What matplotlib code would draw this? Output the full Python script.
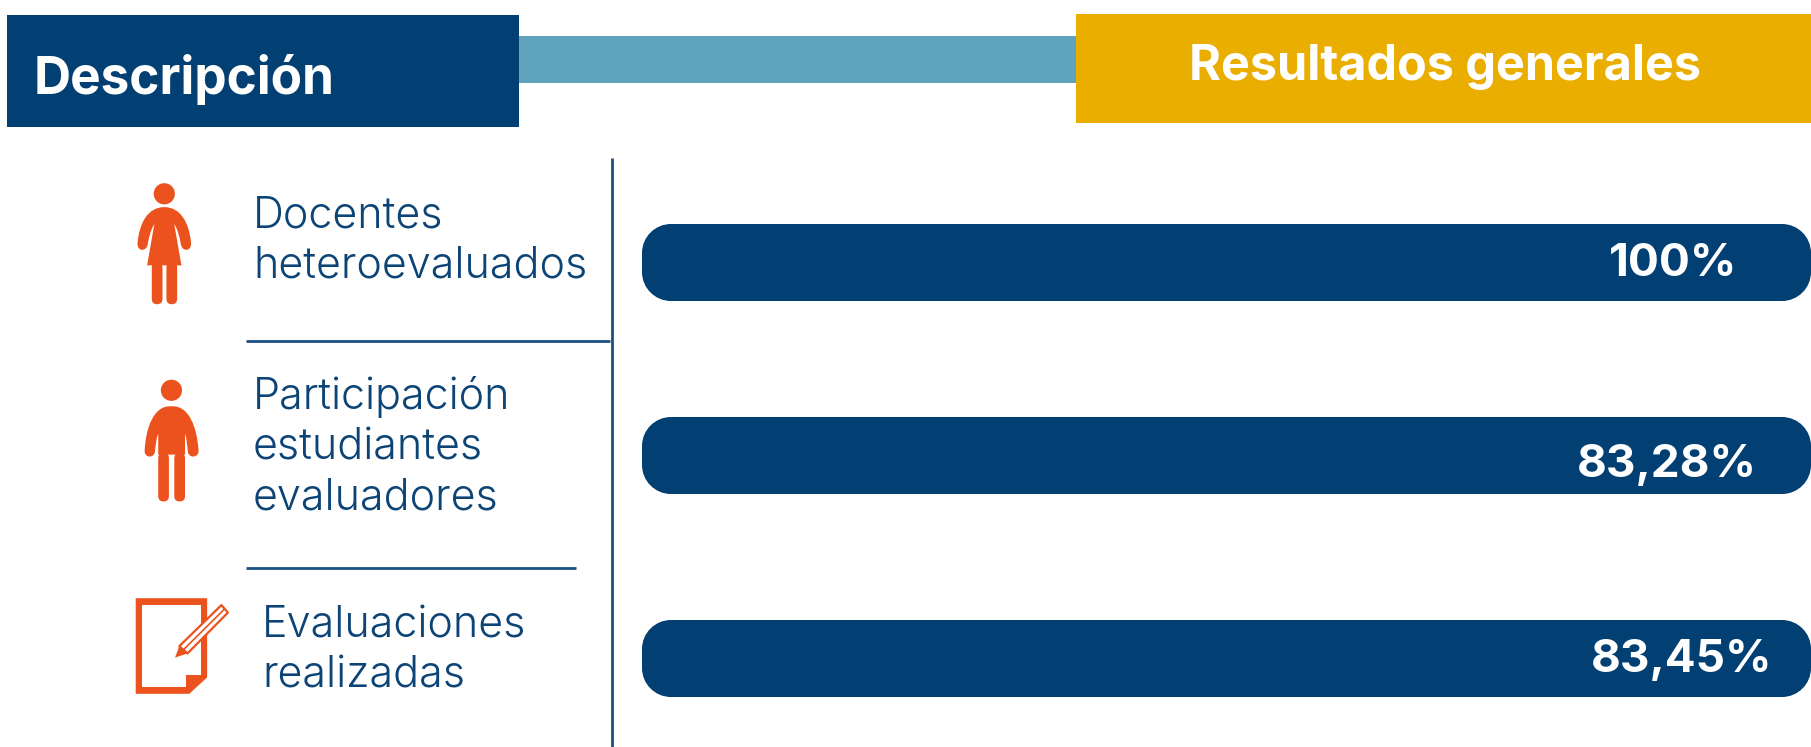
import matplotlib
matplotlib.use("Agg")
import matplotlib.pyplot as plt
from matplotlib.patches import Rectangle, FancyBboxPatch, PathPatch, Circle, Polygon
from matplotlib.path import Path

# --- data ---
header_left = "Descripción"
header_right = "Resultados generales"
categories = [["Docentes", "heteroevaluados"],
              ["Participación", "estudiantes", "evaluadores"],
              ["Evaluaciones", "realizadas"]]
value_labels = ["100%", "83,28%", "83,45%"]
bar_lengths = [100, 100, 100]   # every bar in the picture spans the full track

NAVY = "#023F73"; TEAL = "#5FA3BC"; GOLD = "#E9AE00"; ORANGE = "#EC521D"; TXT = "#0D4476"; LINE = "#1A4F80"
LIGHT = dict(family="Inter", weight=300)
BOLD = dict(family="Inter", weight="bold")

W, H = 1811, 747
fig = plt.figure(figsize=(W / 100, H / 100), dpi=100, facecolor="white")

# bars, scaled on their own axes (below the overlay)
BAR_X0, BAR_X1 = 642, 1811
bax = fig.add_axes([BAR_X0 / W, 0, (BAR_X1 - BAR_X0) / W, 1], zorder=1)
bax.set_xlim(0, 100); bax.set_ylim(H, 0); bax.axis("off")
unit = (BAR_X1 - BAR_X0) / 100
bar_centres = [262.5, 455.5, 658.5]
BAR_H = 77; RAD = 29; K = 0.5523

def rounded_bar(a, length, yc):
    x0, x1 = 0, length
    y0, y1 = yc - BAR_H / 2, yc + BAR_H / 2
    rx = RAD / unit; ry = RAD; kx = rx * (1 - K); ky = ry * (1 - K)
    v = [(x0 + rx, y0), (x1 - rx, y0),
         (x1 - kx, y0), (x1, y0 + ky), (x1, y0 + ry),
         (x1, y1 - ry),
         (x1, y1 - ky), (x1 - kx, y1), (x1 - rx, y1),
         (x0 + rx, y1),
         (x0 + kx, y1), (x0, y1 - ky), (x0, y1 - ry),
         (x0, y0 + ry),
         (x0, y0 + ky), (x0 + kx, y0), (x0 + rx, y0),
         (x0 + rx, y0)]
    c = [Path.MOVETO, Path.LINETO, Path.CURVE4, Path.CURVE4, Path.CURVE4, Path.LINETO,
         Path.CURVE4, Path.CURVE4, Path.CURVE4, Path.LINETO,
         Path.CURVE4, Path.CURVE4, Path.CURVE4, Path.LINETO,
         Path.CURVE4, Path.CURVE4, Path.CURVE4, Path.CLOSEPOLY]
    a.add_patch(PathPatch(Path(v, c), fc=NAVY, ec="none", clip_on=False))

for v, c in zip(bar_lengths, bar_centres):
    rounded_bar(bax, v, c)

ax = fig.add_axes([0, 0, 1, 1], zorder=2); ax.set_xlim(0, W); ax.set_ylim(H, 0); ax.axis("off")

def px(x0, y0, x1, y1, c, z=1):
    ax.add_patch(Rectangle((x0, y0), x1 - x0, y1 - y0, fc=c, ec="none", zorder=z))

# headers
px(519, 36, 1076, 83, TEAL)
px(7, 15, 519, 127, NAVY, 2)
px(1076, 14, 1811, 123, GOLD, 2)
ax.text(34, 94, header_left, color="white", fontsize=37, va="baseline", ha="left", zorder=3, **BOLD)
ax.text(1189, 80, header_right, color="white", fontsize=35, va="baseline", ha="left", zorder=3, **BOLD)

# rules
ax.plot([612, 612], [158, 747], color=LINE, lw=2, solid_capstyle="butt")
ax.plot([246, 610], [341, 341], color=LINE, lw=2, solid_capstyle="butt")
ax.plot([246, 576], [568, 568], color=LINE, lw=2, solid_capstyle="butt")

# labels
label_pos = [(253, [227, 278]), (253, [409, 460, 510]), (262, [637, 688])]
for lines, (x, bases) in zip(categories, label_pos):
    for s, b in zip(lines, bases):
        ax.text(x, b, s, color=TXT, fontsize=31, va="baseline", ha="left", **LIGHT)

text_x = [1737, 1757, 1772]
text_base = [276, 477, 672]
for lab, tx, tb in zip(value_labels, text_x, text_base):
    ax.text(tx, tb, lab, color="white", fontsize=33, va="baseline", ha="right", zorder=5, **BOLD)

# icon helpers: shapes are traced in crop coordinates
def zx(x): return 100 + x / 2.8
def zy(y): return 150 + y / 2.626
def Z(pts): return [(zx(a), zy(b)) for a, b in pts]

def curve(start, segs, color=ORANGE, z=3):
    verts = [start]; codes = [Path.MOVETO]
    for s in segs:
        if len(s) == 1:
            verts += s; codes += [Path.LINETO]
        else:
            verts += s; codes += [Path.CURVE4] * 3
    verts.append(start); codes.append(Path.CLOSEPOLY)
    ax.add_patch(PathPatch(Path(Z(verts), codes), fc=color, ec="none", zorder=z))

def leg(x0, x1, y0, y1):
    r = (x1 - x0) / 2
    ax.add_patch(FancyBboxPatch((zx(x0), zy(y0)), zx(x1) - zx(x0), zy(y1) - zy(y0),
                                boxstyle=f"round,pad=0,rounding_size={r / 2.8}", fc=ORANGE, ec="none", zorder=3))

# woman
ax.add_patch(Circle((zx(180), zy(115)), 10.6, fc=ORANGE, ec="none", zorder=3))
curve((180, 150), [
    [(225, 150), (250, 190), (255, 245)],
    [(256, 268), (228, 268), (226, 245)],
    [(222, 225), (216, 205), (208, 195)],
    [(228, 303)], [(132, 303)], [(152, 195)],
    [(144, 205), (138, 225), (134, 245)],
    [(132, 268), (104, 268), (105, 245)],
    [(110, 190), (135, 150), (180, 150)],
])
leg(145, 175, 295, 405); leg(186, 216, 295, 405)

# man
ax.add_patch(Circle((zx(200), zy(631)), 10.6, fc=ORANGE, ec="none", zorder=3))
curve((200, 673), [
    [(250, 670), (272, 730), (276, 790)],
    [(276, 810), (246, 810), (246, 790)],
    [(244, 775), (242, 755), (238, 745)],
    [(238, 800)], [(163, 800)], [(163, 745)],
    [(158, 755), (156, 775), (154, 790)],
    [(154, 810), (124, 810), (125, 790)],
    [(128, 730), (150, 670), (200, 673)],
])
leg(163, 193, 795, 923); leg(208, 238, 795, 923)

# document with pencil
ax.add_patch(Polygon(Z([(100, 1177), (300, 1177), (300, 1385), (250, 1428), (100, 1428)]), closed=True,
                     fc=ORANGE, ec="none", zorder=3, joinstyle="round"))
ax.add_patch(Polygon(Z([(118, 1195), (282, 1195), (282, 1378), (242, 1378), (242, 1410), (118, 1410)]), closed=True,
                     fc="white", ec="none", zorder=4))
ax.add_patch(Polygon(Z([(222, 1303), (340, 1195), (358, 1215), (245, 1322)]), closed=True,
                     fc="white", ec=ORANGE, lw=1.6, zorder=5, joinstyle="round"))
ax.plot(*zip(*Z([(234, 1312), (349, 1205)])), color=ORANGE, lw=1.2, zorder=6)
ax.add_patch(Polygon(Z([(210, 1333), (222, 1303), (245, 1322)]), closed=True, fc=ORANGE, ec="none", zorder=6))

fig.savefig("out.png", dpi=100, facecolor="white")
